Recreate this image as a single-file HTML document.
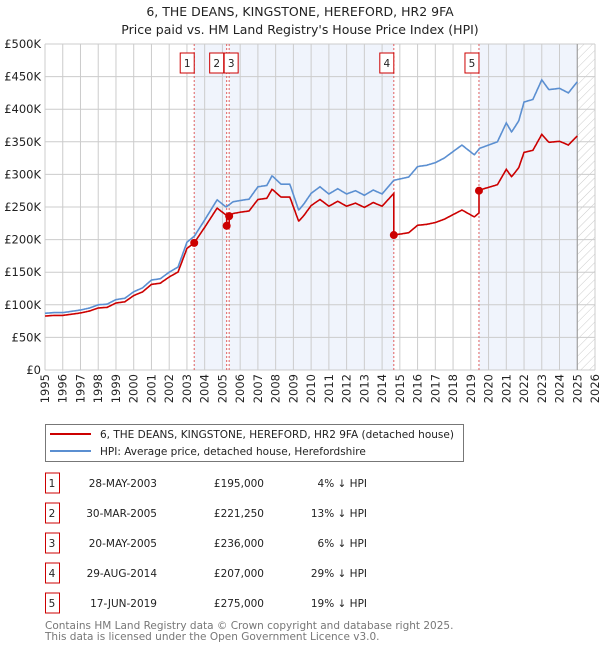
<!DOCTYPE html>
<html><head><meta charset="utf-8"><style>
body{margin:0;background:#fff;font-family:"DejaVu Sans","Liberation Sans",sans-serif;}
svg{display:block}
</style></head><body>
<svg id="chart" width="600" height="650" viewBox="0 0 600 650" xmlns="http://www.w3.org/2000/svg" font-family="DejaVu Sans, Liberation Sans, sans-serif">
<defs><pattern id="hatch" width="6" height="6" patternUnits="userSpaceOnUse" patternTransform="rotate(45)"><line x1="0" y1="0" x2="0" y2="6" stroke="#ccc" stroke-width="1"/></pattern></defs>
<text x="300" y="16" text-anchor="middle" font-size="12.5" fill="#222">6, THE DEANS, KINGSTONE, HEREFORD, HR2 9FA</text>
<text x="300" y="34" text-anchor="middle" font-size="12.5" fill="#222">Price paid vs. HM Land Registry's House Price Index (HPI)</text>
<g id="bands"></g><g id="grid"></g><g id="axes"></g><g id="series"></g><g id="markers"></g>
<g>
<rect x="45.5" y="424.5" width="418" height="37" fill="#fff" stroke="#777"/>
<line x1="50" y1="434" x2="91" y2="434" stroke="#cc0000" stroke-width="2"/>
<text x="100" y="438" font-size="10.5" fill="#222">6, THE DEANS, KINGSTONE, HEREFORD, HR2 9FA (detached house)</text>
<line x1="50" y1="451" x2="91" y2="451" stroke="#5b8fd1" stroke-width="2"/>
<text x="100" y="455" font-size="10.5" fill="#222">HPI: Average price, detached house, Herefordshire</text>
</g>
<g id="table" font-size="10.5" fill="#222"></g>
<text x="45" y="629" font-size="10.5" fill="#777">Contains HM Land Registry data © Crown copyright and database right 2025.</text>
<text x="45" y="640" font-size="10.5" fill="#777">This data is licensed under the Open Government Licence v3.0.</text>
</svg>
<script>
const hpiYears=[1995,1995.5,1996,1996.5,1997,1997.5,1998,1998.5,1999,1999.5,2000,2000.5,2001,2001.5,2002,2002.5,2003,2003.41,2004,2004.7,2005.2,2005.6,2006,2006.5,2007,2007.5,2007.8,2008.3,2008.8,2009.3,2009.6,2010,2010.5,2011,2011.5,2012,2012.5,2013,2013.5,2014,2014.66,2015.5,2016,2016.5,2017,2017.5,2018,2018.5,2019.2,2019.5,2020,2020.5,2021,2021.3,2021.7,2022,2022.5,2023,2023.4,2024,2024.5,2025];
const hpiValues=[87,88,88,90,92,95,100,101,108,110,120,126,138,140,150,158,196,205,230,261,250,258,260,262,281,283,298,285,285,245,255,271,281,270,278,270,275,268,276,270,291,296,312,314,318,325,335,345,330,340,345,350,379,365,382,411,415,445,430,432,425,442];
const saleYears=[2003.41,2005.24,2005.38,2014.66,2019.46];
const salePrices=[195,221.25,236,207,275];
const saleLabels=["1","2","3","4","5"];
const saleDates=["28-MAY-2003","30-MAR-2005","20-MAY-2005","29-AUG-2014","17-JUN-2019"];
const salePriceText=["£195,000","£221,250","£236,000","£207,000","£275,000"];
const saleHpiText=["4% ↓ HPI","13% ↓ HPI","6% ↓ HPI","29% ↓ HPI","19% ↓ HPI"];
const yTicks=[0,50,100,150,200,250,300,350,400,450,500];
const yTickLabels=["£0","£50K","£100K","£150K","£200K","£250K","£300K","£350K","£400K","£450K","£500K"];
const xTicks=[1995,1996,1997,1998,1999,2000,2001,2002,2003,2004,2005,2006,2007,2008,2009,2010,2011,2012,2013,2014,2015,2016,2017,2018,2019,2020,2021,2022,2023,2024,2025,2026];

const NS="http://www.w3.org/2000/svg";
const X0=45,X1=595,Y0=370,Y1=44;
const xs=y=>X0+(y-1995)/(2026-1995)*(X1-X0);
const ys=v=>Y0-v/500*(Y0-Y1);
function mk(tag,attrs,parent){const e=document.createElementNS(NS,tag);for(const k in attrs)e.setAttribute(k,attrs[k]);parent.appendChild(e);return e;}
function hpiAt(t){if(t<=hpiYears[0])return hpiValues[0];for(let i=1;i<hpiYears.length;i++){if(t<=hpiYears[i]){const f=(t-hpiYears[i-1])/(hpiYears[i]-hpiYears[i-1]);return hpiValues[i-1]+f*(hpiValues[i]-hpiValues[i-1]);}}return hpiValues[hpiValues.length-1];}
const bands=document.getElementById('bands'),grid=document.getElementById('grid'),axes=document.getElementById('axes'),series=document.getElementById('series'),markers=document.getElementById('markers'),table=document.getElementById('table');
// shaded bands
const bEdges=saleYears.concat([2025]);
for(let i=0;i<bEdges.length-1;i+=2){
 const r=mk('rect',{x:xs(bEdges[i]),y:Y1,width:xs(bEdges[i+1])-xs(bEdges[i]),height:Y0-Y1,fill:'#f0f4fc'},bands);
 
 
}
const hr=mk('rect',{x:xs(2025),y:Y1,width:X1-xs(2025),height:Y0-Y1,fill:'url(#hatch)'},bands);


// grid
yTicks.forEach((v,i)=>{
 const l=mk('line',{x1:X0,x2:X1,y1:ys(v),y2:ys(v),stroke:'#ccc','stroke-width':1},grid);
 
 
 const t=mk('text',{x:X0-4,y:ys(v)+4,'text-anchor':'end','font-size':'11.5',fill:'#222'},axes);
 t.textContent=yTickLabels[i];
 
 
});
xTicks.forEach(yr=>{
 const l=mk('line',{x1:xs(yr),x2:xs(yr),y1:Y1,y2:Y0,stroke:'#ccc','stroke-width':1},grid);
 
 
 const t=mk('text',{x:0,y:0,'text-anchor':'end','font-size':'11.5',fill:'#222',transform:`translate(${xs(yr)+4},374) rotate(-90)`},axes);
 t.textContent=yr;
 
 
});
const vl=mk('line',{x1:xs(2025),x2:xs(2025),y1:Y1,y2:Y0,stroke:'#999','stroke-width':1},grid);


// sale dashed lines + labels
saleYears.forEach((t,i)=>{
 const l=mk('line',{x1:xs(t),x2:xs(t),y1:Y1,y2:Y0,stroke:'#e06060','stroke-width':1,'stroke-dasharray':'2,2'},grid);
 
 
 const bx=xs(t)-(i===1?10:i===2?-2:7);
 const r=mk('rect',{x:bx-7,y:53,width:14,height:20,fill:'#fff',stroke:'#cc0000'},markers);
 
 
 const tx=mk('text',{x:bx,y:67,'text-anchor':'middle','font-size':'10.5',fill:'#222'},markers);
 tx.textContent=saleLabels[i];
 
 
});
// series
let hp='',rp='';
const fine=[];for(let t=1995;t<=2025.001;t+=1/24)fine.push(t);
saleYears.forEach(s=>fine.push(s,s-0.0001));fine.sort((a,b)=>a-b);
function ratioAt(t){let k=0;for(let i=0;i<saleYears.length;i++)if(t>=saleYears[i])k=i;return salePrices[k]/hpiAt(saleYears[k]);}
fine.forEach((t,i)=>{hp+=(i?'L':'M')+xs(t).toFixed(1)+','+ys(hpiAt(t)).toFixed(1);rp+=(i?'L':'M')+xs(t).toFixed(1)+','+ys(hpiAt(t)*ratioAt(t)).toFixed(1);});
const hl=mk('path',{d:hp,fill:'none',stroke:'#5b8fd1','stroke-width':1.6},series);


const rl=mk('path',{d:rp,fill:'none',stroke:'#cc0000','stroke-width':1.6},series);


saleYears.forEach((t,i)=>{
 const c=mk('circle',{cx:xs(t),cy:ys(salePrices[i]),r:4,fill:'#cc0000'},series);
 
 
});
// table
saleYears.forEach((t,i)=>{
 const cy=483+i*30;
 const r=mk('rect',{x:45.5,y:cy-10,width:14,height:20,fill:'#fff',stroke:'#cc0000'},table);
 
 
 const cols=[[52,'middle',saleLabels[i],'table-sale-number'],[157,'end',saleDates[i],'table-sale-date'],[264,'end',salePriceText[i],'table-sale-price'],[367,'end',saleHpiText[i],'table-sale-hpi-diff']];
 cols.forEach(c=>{
  const tx=mk('text',{x:c[0],y:cy+4,'text-anchor':c[1]},table);
  tx.textContent=c[2];
  
  
 });
});
</script>
</body></html>
